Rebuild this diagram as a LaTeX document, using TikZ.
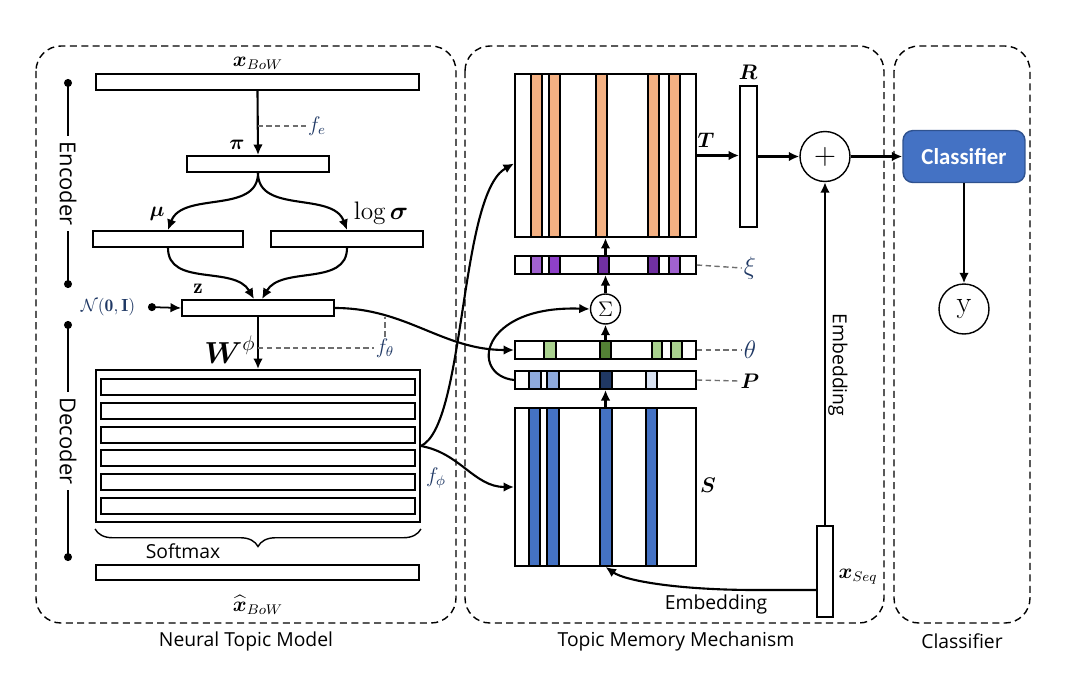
\documentclass[tikz,border=0pt]{standalone}
\usepackage{amsmath}
\usepackage{fontspec}
\setsansfont{Open Sans}
\newfontfamily\clsfont{Carlito}
\usepackage{tikz}
\usetikzlibrary{arrows.meta, positioning, calc, backgrounds, decorations.pathreplacing}

\definecolor{labnavy}{RGB}{31, 56, 100}
\definecolor{guidegray}{RGB}{110, 110, 110}
\definecolor{tOrange}{RGB}{244, 177, 131}
\definecolor{sBlue}{RGB}{68, 114, 196}
\definecolor{clsBorder}{RGB}{47, 82, 143}
\definecolor{purLight}{RGB}{160, 98, 208}
\definecolor{purMid}{RGB}{142, 64, 200}
\definecolor{purDark}{RGB}{112, 48, 160}
\definecolor{grLight}{RGB}{169, 209, 142}
\definecolor{grDark}{RGB}{84, 130, 53}
\definecolor{pLight}{RGB}{143, 170, 220}
\definecolor{pDark}{RGB}{32, 56, 100}
\definecolor{pPale}{RGB}{218, 227, 243}

\tikzset{
    bar/.style={draw, line width=1.1pt, inner sep=0pt, minimum height=0.32cm},
    arr/.style={line width=1.2pt, -{Latex[length=6pt,width=5.5pt]}},
    panel/.style={line width=0.8pt, rounded corners=0.5cm, dash pattern=on 4pt off 2.5pt},
    guide/.style={draw=guidegray, line width=0.8pt, dash pattern=on 3pt off 2pt},
    cell/.style={draw, line width=0.6pt},
    dotline/.style={line width=1pt, {Circle[length=4.5pt]}-{Circle[length=4.5pt]}},
    sec/.style={font=\sffamily\fontsize{11}{13}\selectfont},
    side/.style={fill=white, rotate=-90, inner sep=3pt, font=\sffamily\fontsize{12.5}{14}\selectfont},
    opcircle/.style={draw, circle, line width=0.8pt, inner sep=0pt},
    mlab/.style={font=\large, inner sep=1pt},
}

\begin{document}
\begin{tikzpicture}[x=0.02cm, y=-0.02cm]
    \useasboundingbox (0,0) rectangle (1069,687);

    % three dashed panels
    \draw[panel] (36,46) rectangle (456,623);
    \draw[panel] (465,46) rectangle (884,623);
    \draw[panel] (894,46) rectangle (1030,623);
    \node[sec] (ntmtitle) at (246,641) {Neural Topic Model};
    \node[sec] (tmmtitle) at (676,641) {Topic Memory Mechanism};
    \node[sec] (clstitle) at (962,641) {Classifier};

    % ---- neural topic model ----
    \node[bar, minimum width=6.46cm] (xbow) at (257.5,82) {};
    \node[mlab] (xbowlab) at (258,63) {$\boldsymbol{x}_{BoW}$};
    \node[bar, minimum width=2.84cm] (pi) at (258,164) {};
    \node[mlab] (pilab) at (237,145) {$\boldsymbol{\pi}$};
    \node[mlab, text=labnavy] (fe) at (317,126) {$f_e$};
    \node[bar, minimum width=3.0cm] (mu) at (168,239) {};
    \node[mlab] (mulab) at (157,214) {$\boldsymbol{\mu}$};
    \node[font=\Large] (logsiglab) at (381,213) {$\log\boldsymbol{\sigma}$};
    \node[bar, minimum width=3.04cm] (logsig) at (347,239) {};
    \node[bar, minimum width=3.04cm] (z) at (258,308) {};
    \node[mlab] (zlab) at (198,289) {$\mathbf{z}$};
    \node[text=labnavy, inner sep=1pt] (ndist) at (108,307) {$\mathcal{N}(\mathbf{0},\mathbf{I})$};
    \coordinate (ndot) at (148,307);

    \draw[arr] (xbow.south) -- (pi.north);
    \draw[guide] (xbow.south |- fe.west) -- (fe.west);
    \draw[arr] (pi.south) to[out=-90,in=70] (mu.north);
    \draw[arr] (pi.south) to[out=-90,in=110] (logsig.north);
    \draw[arr] (mu.south) to[out=-90,in=120] ([xshift=-0.08cm]z.north);
    \draw[arr] (logsig.south) to[out=-90,in=60] ([xshift=0.08cm]z.north);
    \draw[line width=1pt, {Circle[length=4.5pt]}-{Latex[length=6pt,width=5.5pt]}] (ndot) -- (z.west);

    % encoder / decoder marks
    \draw[dotline] (68,79) -- node[side] {Encoder} (68,288);
    \draw[dotline] (68,321) -- node[side] {Decoder} (68,561);

    % decoder weights
    \node[draw, line width=1.1pt, minimum width=6.48cm, minimum height=3.04cm, inner sep=0pt] (W) at (258,446) {};
    \foreach \y [count=\i] in {387,411,435,458,482,506}
        \node[bar, line width=1pt, minimum width=6.28cm] (w\i) at (258,\y) {};
    \node[font=\LARGE] (Wlab) at (230,350) {$\boldsymbol{W}^{\phi}$};
    \node[mlab, text=labnavy] (ftheta) at (385,348) {$f_\theta$};
    \node[mlab, text=labnavy] (fphi) at (436,478) {$f_\phi$};
    \draw[arr] (z.south) -- (W.north);
    \draw[guide] (z.south |- ftheta.west) -- (ftheta.west);
    \draw[guide] (ftheta.north) -- (ftheta.north |- z.south);

    \draw[line width=0.8pt, decorate, decoration={brace, mirror, amplitude=10pt}]
        ([yshift=-0.12cm]W.south west) -- ([yshift=-0.12cm]W.south east);
    \node[sec] (softmax) at (183,551) {Softmax};
    \node[bar, minimum width=6.46cm, minimum height=0.3cm] (xhat) at (257.5,572.5) {};
    \node[mlab, inner sep=0pt] (xhatlab) at (258,605) {$\widehat{\boldsymbol{x}}_{BoW}$};

    % ---- topic memory mechanism ----
    \node[draw, line width=1.1pt, minimum width=3.62cm, minimum height=3.26cm, inner sep=0pt] (T) at (605.5,155.5) {};
    \node[bar, minimum width=3.62cm, minimum height=0.36cm] (xi) at (605.5,265) {};
    \node[opcircle, minimum size=0.6cm, font=\large] (sigma) at (605.5,309) {$\Sigma$};
    \node[bar, minimum width=3.62cm, minimum height=0.36cm] (theta) at (605.5,350) {};
    \node[bar, minimum width=3.62cm, minimum height=0.36cm] (P) at (605.5,380) {};
    \node[draw, line width=1.1pt, minimum width=3.62cm, minimum height=3.16cm, inner sep=0pt] (S) at (605.5,487) {};
    \node[bar, minimum width=0.34cm, minimum height=2.82cm] (R) at (748.5,156.5) {};
    \node[bar, minimum width=0.32cm, minimum height=1.82cm] (xseq) at (825,571.5) {};

    \begin{scope}[on background layer]
        \foreach \a/\b in {531/542,549/560,596/607,648/659,669/680}
            \draw[cell, fill=tOrange] (\a,74) rectangle (\b,237);
        \foreach \a/\b/\c in {531/542/purLight,549/560/purMid,598/609/purDark,648/659/purDark,669/680/purLight}
            \draw[cell, fill=\c] (\a,256) rectangle (\b,274);
        \foreach \a/\b/\c in {544/556/grLight,600/611/grDark,652/662/grLight,671/682/grLight}
            \draw[cell, fill=\c] (\a,341) rectangle (\b,359);
        \foreach \a/\b/\c in {529/541/pLight,547/559/pLight,600/612/pDark,646/657/pPale}
            \draw[cell, fill=\c] (\a,371) rectangle (\b,389);
        \foreach \a/\b in {529/540,547/559,600/612,646/657}
            \draw[cell, fill=sBlue] (\a,408) rectangle (\b,566);
    \end{scope}

    \node[mlab] (Tlab) at (706,140) {$\boldsymbol{T}$};
    \node[mlab] (Rlab) at (748,72) {$\boldsymbol{R}$};
    \node[mlab] (Slab) at (708,485) {$\boldsymbol{S}$};
    \node[font=\Large, text=labnavy, inner sep=1pt] (xilab) at (750,268) {$\xi$};
    \node[font=\Large, text=labnavy, inner sep=1pt] (thetalab) at (750,350) {$\theta$};
    \node[mlab] (Plab) at (750,381) {$\boldsymbol{P}$};
    \node[mlab] (xseqlab) at (858,577) {$\boldsymbol{x}_{Seq}$};
    \draw[guide] (xi.east) -- (xilab.west);
    \draw[guide] (theta.east) -- (thetalab.west);
    \draw[guide] (P.east) -- (Plab.west);

    \draw[arr] (z.east) to[out=0,in=180] (theta.west);
    \draw[arr] (W.east) .. controls +(45,-21) and +(-55,31) .. ([yshift=-0.16cm]T.west);
    \draw[arr] (W.east) to[out=-10,in=180] (S.west);
    \draw[arr] (P.west) .. controls +(-45,-5) and +(-110,-4) .. (sigma.west);
    \draw[arr] (S.north) -- (P.south);
    \draw[arr] (theta.north) -- (sigma.south);
    \draw[arr] (sigma.north) -- (xi.south);
    \draw[arr] (xi.north) -- (T.south);
    \draw[arr] (T.east) -- (T.east -| R.west);

    % sequence input
    \node[opcircle, minimum size=1cm, font=\LARGE] (plus) at (825,156.5) {$+$};
    \draw[arr] (xseq.north) -- (plus.south);
    \draw[arr] ([yshift=-0.37cm]xseq.west) -- ++(-60,0) .. controls +(-77,0) and +(20,14) .. (S.south);
    \node[sec] (emb) at (716,604) {Embedding};
    \node[sec, rotate=-90] (embup) at (838,365) {Embedding};
    \draw[arr] (R.east) -- (plus.west);

    % ---- classifier ----
    \node[draw=clsBorder, fill=sBlue, line width=0.8pt, rounded corners=0.2cm,
          minimum width=2.44cm, minimum height=1.04cm, text=white,
          font=\clsfont\bfseries\fontsize{13}{15}\selectfont] (cls) at (964,156.5) {Classifier};
    \node[opcircle, minimum size=1cm, font=\LARGE] (yout) at (964,309) {$\mathrm{y}$};
    \draw[arr] (plus.east) -- (cls.west);
    \draw[arr] (cls.south) -- (yout.north);
\end{tikzpicture}
\end{document}
